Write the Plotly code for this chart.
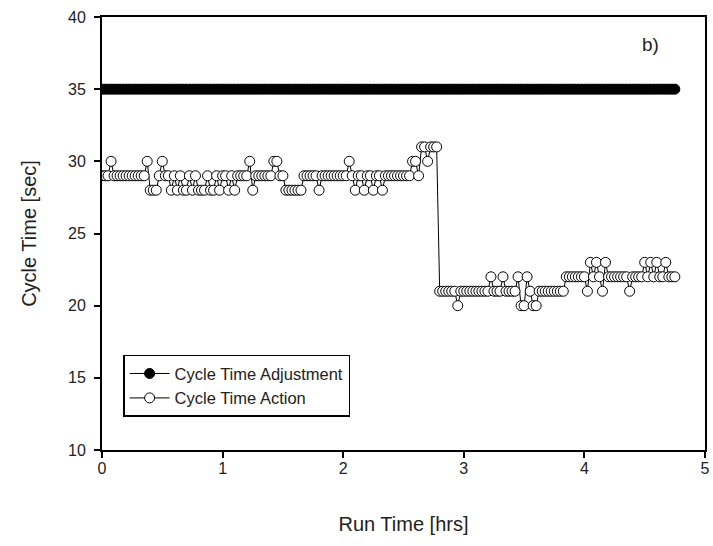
import plotly.graph_objects as go

# Run time sampling (hrs)
time_start = 0.0
time_step = 0.025
# Cycle Time Action values [sec], one per sample
action_values = [
    29, 29, 29, 30, 29, 29, 29, 29, 29, 29,
    29, 29, 29, 29, 29, 30, 28, 28, 28, 29,
    30, 29, 29, 28, 29, 28, 29, 28, 28, 29,
    28, 29, 28, 28, 28, 29, 28, 28, 29, 28,
    29, 29, 28, 29, 28, 29, 29, 29, 29, 30,
    28, 29, 29, 29, 29, 29, 29, 30, 30, 29,
    29, 28, 28, 28, 28, 28, 28, 29, 29, 29,
    29, 29, 28, 29, 29, 29, 29, 29, 29, 29,
    29, 29, 30, 29, 28, 29, 29, 28, 29, 29,
    28, 29, 29, 28, 29, 29, 29, 29, 29, 29,
    29, 29, 29, 30, 30, 29, 31, 31, 30, 31,
    31, 31, 21, 21, 21, 21, 21, 21, 20, 21,
    21, 21, 21, 21, 21, 21, 21, 21, 21, 22,
    21, 21, 21, 22, 21, 21, 21, 21, 22, 20,
    20, 22, 21, 20, 20, 21, 21, 21, 21, 21,
    21, 21, 21, 21, 22, 22, 22, 22, 22, 22,
    22, 21, 23, 22, 23, 22, 21, 23, 22, 22,
    22, 22, 22, 22, 22, 21, 22, 22, 22, 22,
    23, 22, 23, 22, 23, 22, 22, 23, 22, 22, 22,
]
# Cycle Time Adjustment values [sec]
adjustment_level = 35
adjustment_values = [adjustment_level] * len(action_values)
run_time = [round(time_start + i * time_step, 4) for i in range(len(action_values))]

x_ticks = [0, 1, 2, 3, 4, 5]
y_ticks = [10, 15, 20, 25, 30, 35, 40]

FONT = "Arial, Liberation Sans, sans-serif"

fig = go.Figure()
fig.add_trace(go.Scatter(
    x=run_time, y=adjustment_values, mode="lines+markers",
    name="Cycle Time Adjustment",
    line=dict(color="black", width=1),
    marker=dict(symbol="circle", size=10, color="black", line=dict(color="black", width=1)),
))
fig.add_trace(go.Scatter(
    x=run_time, y=action_values, mode="lines+markers",
    name="Cycle Time Action",
    line=dict(color="black", width=1),
    marker=dict(symbol="circle", size=10, color="white", line=dict(color="black", width=1)),
))

axis_common = dict(
    showline=True, linecolor="black", linewidth=2, mirror=True,
    ticks="outside", ticklen=6, tickwidth=1.5, tickcolor="black",
    showgrid=False, zeroline=False, automargin=False,
    tickfont=dict(family=FONT, size=16, color="#222"),
)
fig.update_xaxes(range=[0, 5], tickvals=x_ticks, ticklabelstandoff=-3,
                 title=dict(text="Run Time [hrs]", font=dict(family=FONT, size=20, color="#222"), standoff=41),
                 **axis_common)
fig.update_yaxes(range=[10, 40], tickvals=y_ticks, ticklabelstandoff=5,
                 title=dict(text="Cycle Time [sec]", font=dict(family=FONT, size=20, color="#222"), standoff=26),
                 **axis_common)

fig.add_annotation(x=4.55, y=38.1, text="b)", showarrow=False,
                   font=dict(family=FONT, size=19, color="#222"))

fig.update_layout(
    width=713, height=546,
    margin=dict(l=102, r=8, t=17, b=96),
    plot_bgcolor="white", paper_bgcolor="white",
    legend=dict(
        x=0.035, y=0.22, xanchor="left", yanchor="top",
        bordercolor="black", borderwidth=1.5, bgcolor="white",
        font=dict(family=FONT, size=16.5, color="#222"),
        itemwidth=40, tracegroupgap=0,
    ),
)

fig.write_html("out.html", config={"displayModeBar": False},
               post_script="document.body.style.margin='0px';")
